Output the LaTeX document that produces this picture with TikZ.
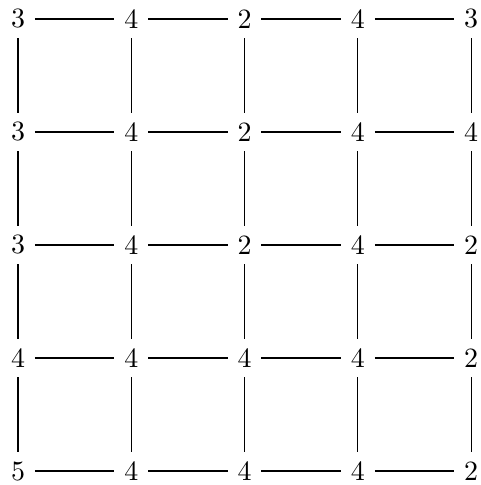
\documentclass[tikz,border=0pt]{standalone}
\begin{document}
\begin{tikzpicture}[x=0.358pt,y=-0.358pt,
  num/.style={inner sep=3.333pt},
  edge/.style={draw,line width=0.4pt}]
\useasboundingbox (0,0) rectangle (480,485);
\def\xs{{18,131.3,244.6,357.9,471.2}}
\def\ys{{19,132,245,358,471}}
\foreach \r/\row in {1/{3,4,2,4,3},2/{3,4,2,4,4},3/{3,4,2,4,2},4/{4,4,4,4,2},5/{5,4,4,4,2}}{
  \foreach \v [count=\c] in \row {
    \pgfmathsetmacro{\px}{\xs[\c-1]}
    \pgfmathsetmacro{\py}{\ys[\r-1]}
    \node[num] (n-\r-\c) at (\px,\py) {\v};
  }
}
\foreach \r in {1,...,5}{
  \foreach \c [evaluate=\c as \d using int(\c+1)] in {1,...,4}{
    \path[edge] (n-\r-\c) -- (n-\r-\d);
  }
}
\foreach \c in {1,...,5}{
  \foreach \r [evaluate=\r as \s using int(\r+1)] in {1,...,4}{
    \path[edge] (n-\r-\c) -- (n-\s-\c);
  }
}
\end{tikzpicture}
\end{document}
